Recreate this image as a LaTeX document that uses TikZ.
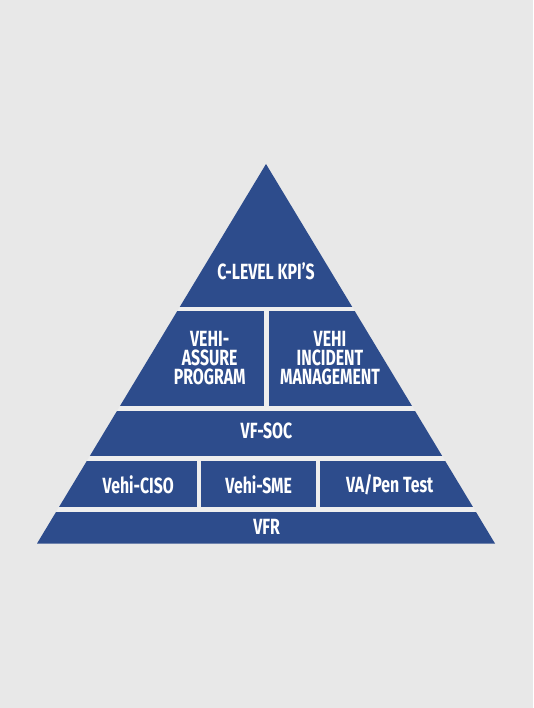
\documentclass[tikz,border=0pt]{standalone}
\usepackage{fontspec}
\newfontfamily\lab[FakeStretch=0.72]{Fira Sans}
\definecolor{bg}{RGB}{232,232,232}
\definecolor{gapc}{RGB}{238,238,238}
\definecolor{pblue}{RGB}{45,76,140}
\begin{document}
\begin{tikzpicture}[x=1pt,y=-1pt,
  cell/.style={fill=pblue},
  lbl/.style={text=white,align=center,inner sep=0pt,font=\lab\bfseries\fontsize{22}{19}\selectfont}]
\fill[bg] (0,0) rectangle (533,708);
\useasboundingbox (0,0) rectangle (533,708);
\begin{scope}
\clip (266,164) -- (495,543.5) -- (37,543.5) -- cycle;
\fill[gapc] (0,150) rectangle (533,560);
\fill[cell] (0,150) rectangle (533,306.5);
\fill[cell] (0,311) rectangle (264,406);
\fill[cell] (268.5,311) rectangle (533,406);
\fill[cell] (0,410.5) rectangle (533,456);
\fill[cell] (0,461) rectangle (196.7,507);
\fill[cell] (200.7,461) rectangle (316,507);
\fill[cell] (320,461) rectangle (533,507);
\fill[cell] (0,511.5) rectangle (533,560);
\end{scope}
\node[lbl] (kpi) at (266,271) {C-LEVEL KPI’S};
\node[lbl] (assure) at (209.7,358) {VEHI-\\ASSURE\\PROGRAM};
\node[lbl] (incident) at (330,358) {VEHI\\INCIDENT\\MANAGEMENT};
\node[lbl] (soc) at (266.5,431) {VF-SOC};
\node[lbl] (ciso) at (138.3,484.5) {Vehi-CISO};
\node[lbl] (sme) at (258.7,484.5) {Vehi-SME};
\node[lbl] (pen) at (389.7,484.5) {VA/Pen Test};
\node[lbl] (vfr) at (266.7,526.5) {VFR};
\end{tikzpicture}
\end{document}
